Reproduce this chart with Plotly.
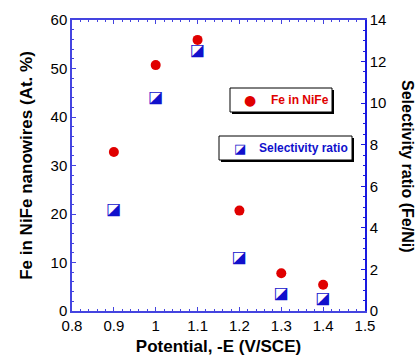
import plotly.graph_objects as go

potential = [0.9, 1.0, 1.1, 1.2, 1.3, 1.4]
fe_in_nife = [32.8, 50.7, 55.9, 20.7, 7.8, 5.4]
selectivity = [4.86, 10.25, 12.5, 2.56, 0.82, 0.58]

W, H = 417, 361
L, R, T, B = 72, 52, 20, 50
PW, PH = W - L - R, H - T - B

def px(x):
    # x in screenshot pixels -> paper fraction
    return (x - L) / PW

def py(y):
    return (H - B - y) / PH

LEFT_COL = "#4444e0"
RIGHT_COL = "#1a1ae0"
RED = "#e00000"
BLUE = "#1010cc"

fig = go.Figure()
fig.add_trace(go.Scatter(
    x=potential, y=fe_in_nife, mode="markers", name="Fe in NiFe",
    marker=dict(symbol="circle", size=10, color=RED), showlegend=False))
fig.add_trace(go.Scatter(
    x=potential, y=selectivity, mode="text", yaxis="y2", name="Selectivity ratio",
    text=["\u25EA"] * len(potential), textposition="middle center",
    textfont=dict(family="DejaVu Sans", size=16, color=BLUE), showlegend=False))

font_tick = dict(family="Liberation Sans, Arial", size=15, color="black")

fig.update_layout(
    width=W, height=H, margin=dict(l=L, r=R, t=T, b=B, autoexpand=False),
    plot_bgcolor="white", paper_bgcolor="white", showlegend=False,
    xaxis=dict(range=[0.8, 1.5], dtick=0.1, tick0=0.8, ticks="inside", ticklen=4,
               tickcolor=LEFT_COL, linecolor=LEFT_COL, linewidth=1.5, mirror="ticks",
               showgrid=False, zeroline=False, tickfont=font_tick,
               minor=dict(dtick=0.02, ticks="inside", ticklen=2, tickcolor=LEFT_COL, showgrid=False),
               title=dict(text="<b>Potential, -E (V/SCE)</b>",
                          font=dict(family="Liberation Sans, Arial", size=17, color="black"), standoff=7)),
    yaxis=dict(range=[0, 60], dtick=10, ticks="inside", ticklen=4,
               tickcolor=LEFT_COL, linecolor=LEFT_COL, linewidth=1.5,
               showgrid=False, zeroline=False, tickfont=font_tick,
               minor=dict(dtick=2, ticks="inside", ticklen=2, tickcolor=LEFT_COL, showgrid=False),
               title=dict(text="<b>Fe in NiFe nanowires (At. %)</b>",
                          font=dict(family="Liberation Sans, Arial", size=17, color="black"), standoff=14)),
    yaxis2=dict(range=[0, 14], dtick=2, ticks="inside", ticklen=4, overlaying="y", side="right",
                tickcolor=RIGHT_COL, linecolor=RIGHT_COL, linewidth=1.5,
                showgrid=False, zeroline=False, tickfont=font_tick,
                minor=dict(dtick=0.5, ticks="inside", ticklen=2, tickcolor=RIGHT_COL, showgrid=False)),
)

shapes = []
annotations = []

def legend_box(x0, x1, y0, y1):
    shapes.append(dict(type="rect", xref="paper", yref="paper",
                       x0=px(x0 + 2), x1=px(x1 + 2), y0=py(y1 + 2), y1=py(y0 + 2),
                       fillcolor="black", line=dict(width=0), layer="above"))
    shapes.append(dict(type="rect", xref="paper", yref="paper",
                       x0=px(x0), x1=px(x1), y0=py(y1), y1=py(y0),
                       fillcolor="white", line=dict(color="black", width=1), layer="above"))

legend_box(230, 332, 88, 112)
legend_box(219, 352, 136, 160)

annotations.append(dict(xref="paper", yref="paper", x=px(250), y=py(100), text="\u25CF",
                        showarrow=False, font=dict(family="DejaVu Sans", size=14, color=RED),
                        xanchor="center", yanchor="middle"))
annotations.append(dict(xref="paper", yref="paper", x=px(269), y=py(100), text="<b>Fe in NiFe</b>",
                        showarrow=False, font=dict(family="Liberation Sans, Arial", size=12, color=RED),
                        xanchor="left", yanchor="middle"))
annotations.append(dict(xref="paper", yref="paper", x=px(240), y=py(148), text="\u25EA",
                        showarrow=False, font=dict(family="DejaVu Sans", size=13, color=BLUE),
                        xanchor="center", yanchor="middle"))
annotations.append(dict(xref="paper", yref="paper", x=px(257), y=py(148), text="<b>Selectivity ratio</b>",
                        showarrow=False, font=dict(family="Liberation Sans, Arial", size=12, color=BLUE),
                        xanchor="left", yanchor="middle"))
# right axis title (reads top to bottom)
annotations.append(dict(xref="paper", yref="paper", x=px(408), y=py(166),
                        text="<b>Selectivity ratio (Fe/Ni)</b>", textangle=90, showarrow=False,
                        font=dict(family="Liberation Sans, Arial", size=16, color="black"),
                        xanchor="center", yanchor="middle"))

fig.update_layout(shapes=shapes, annotations=annotations)
fig.write_html("out.html", config={"displayModeBar": False},
               post_script="document.body.style.margin='0';document.body.style.overflow='hidden';")
